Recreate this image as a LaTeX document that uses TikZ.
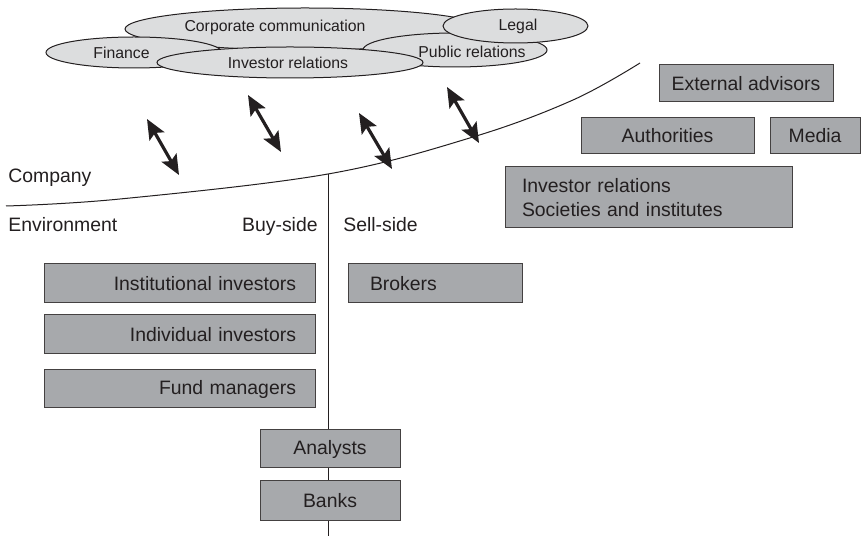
\documentclass[tikz,border=0pt]{standalone}
\usepackage{fontspec}
\setmainfont{Liberation Sans}
\usetikzlibrary{shapes.geometric,arrows.meta}
\definecolor{ellgray}{HTML}{DCDDDE}
\definecolor{boxgray}{HTML}{A7A9AC}
\definecolor{ink}{HTML}{231F20}
\newcommand{\boxfont}{\fontsize{9.7}{12}\selectfont}
\newcommand{\ellfont}{\fontsize{7.9}{9.5}\selectfont}

\begin{document}
\begin{tikzpicture}[x=0.5pt,y=-0.5pt,
  unit/.style={ellipse,draw=ink,fill=ellgray,line width=0.5pt,inner sep=0pt},
  panel/.style={rectangle,draw=ink!85,fill=boxgray,line width=0.5pt,inner ysep=0pt,font=\boxfont,text=ink},
  tag/.style={font=\boxfont,text=ink,inner sep=0pt},
  link/.style={line width=1.6pt,draw=ink,{Stealth[length=10pt,width=8.5pt,inset=2pt]}-{Stealth[length=10pt,width=8.5pt,inset=2pt]}},
  every label/.style={font=\ellfont,text=ink,inner sep=0pt}]
  \useasboundingbox (0,0) rectangle (862,539);
  % functions inside the company
  \node[unit,minimum width=180pt,minimum height=21pt,label={[xshift=-15pt,yshift=1pt]center:Corporate communication}] (corp) at (305,29) {};
  \node[unit,minimum width=88pt,minimum height=15.5pt,label={[xshift=-6.25pt]center:Finance}] (fin) at (134,52.5) {};
  \node[unit,minimum width=92pt,minimum height=17pt,label={[xshift=8.5pt,yshift=-1pt]center:Public relations}] (pr) at (455,50) {};
  \node[unit,minimum width=72.5pt,minimum height=17pt,label={[xshift=1.25pt]center:Legal}] (legal) at (515.5,26) {};
  \node[unit,minimum width=133pt,minimum height=15.5pt,label={[xshift=-1pt]center:Investor relations}] (ir) at (290,62.5) {};
  % boundary between company and environment
  \draw[line width=0.5pt,ink] plot[smooth,tension=0.6] coordinates {(6,206) (120,199) (328,174) (473,137) (573,100) (640,63)};
  \coordinate (split) at (328,174);
  \coordinate (foot) at (328,536);
  \draw[line width=0.5pt,ink] (split) -- (foot);
  \foreach \n/\a/\b in {1/{147,119}/{179,175},2/{248,95}/{281,152},3/{359,113}/{392,169},4/{447,87}/{479,143}}{
    \coordinate (top\n) at (\a);
    \coordinate (bot\n) at (\b);
    \draw[link] (top\n) -- (bot\n);
  }
  \node[tag,anchor=base west] (company) at (8,183) {Company};
  \node[tag,anchor=base west] (environment) at (8,232) {Environment};
  \node[tag,anchor=base east] (buyside) at (318,232) {Buy-side};
  \node[tag,anchor=base west] (sellside) at (343,232) {Sell-side};
  % buy-side and sell-side
  \node[panel,minimum height=19.5pt,text width=116.5pt,inner xsep=9.5pt,align=right] (inst) at (179.5,283.5) {Institutional investors};
  \node[panel,minimum height=19.5pt,text width=116.5pt,inner xsep=9.5pt,align=right] (indiv) at (179.5,334.5) {Individual investors};
  \node[panel,minimum height=19pt,text width=116.5pt,inner xsep=9.5pt,align=right] (fund) at (179.5,389) {Fund managers};
  \node[panel,minimum height=19.5pt,text width=65pt,inner xsep=11pt,align=left] (brokers) at (435,283.5) {Brokers};
  \node[panel,minimum width=70pt,minimum height=19pt] (analysts) at (330,449) {Analysts};
  \node[panel,minimum width=70pt,minimum height=19.5pt] (banks) at (330,500.5) {Banks};
  % other parties
  \node[panel,minimum width=87pt,minimum height=18.5pt] (extadv) at (746,83.5) {External advisors};
  \node[panel,minimum width=86.5pt,minimum height=18pt] (auth) at (667.5,136) {Authorities};
  \node[panel,minimum width=45pt,minimum height=18pt] (media) at (815,136) {Media};
  \node[panel,minimum height=30.5pt,text width=126.5pt,inner xsep=8.5pt,align=left] (irsoc) at (648.5,197.5) {Investor relations\\Societies and institutes};
\end{tikzpicture}
\end{document}
